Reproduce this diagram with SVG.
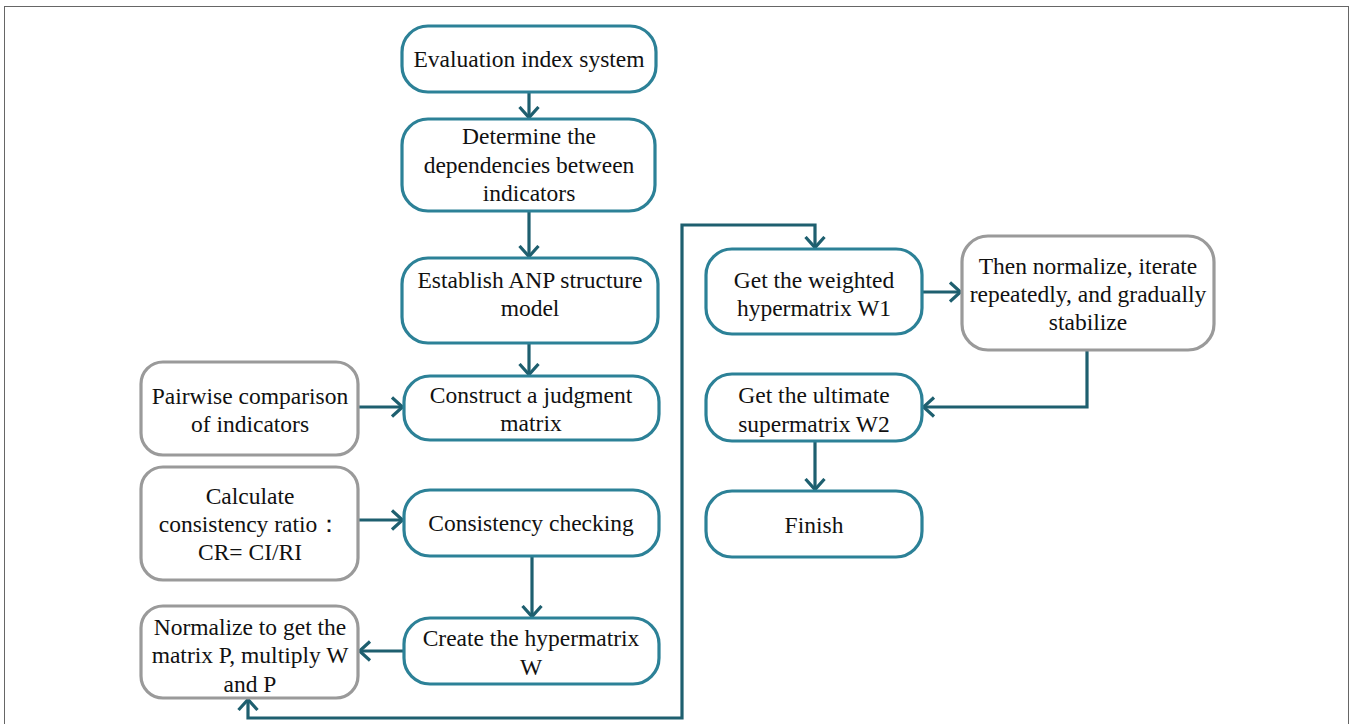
<svg xmlns="http://www.w3.org/2000/svg" width="1352" height="724" viewBox="0 0 1352 724">
<defs>
<style>
.t{fill:#fff;stroke:#2c8197;stroke-width:3.2}
.g{fill:#fff;stroke:#9a9a9a;stroke-width:3.2}
.c{fill:none;stroke:#1e5f6f;stroke-width:3.2}
text{font-family:"Liberation Serif","Times New Roman",serif;font-size:23.5px;fill:#111;text-anchor:middle}
</style>
<marker id="a" viewBox="0 0 14 22" refX="12.5" refY="11" markerWidth="14" markerHeight="22" markerUnits="userSpaceOnUse" orient="auto-start-reverse">
<path d="M1.5,1.5 L12,11 L1.5,20.5" fill="none" stroke="#1e5f6f" stroke-width="3.2"/>
</marker>
</defs>
<rect x="4.5" y="6.5" width="1344" height="730" fill="none" stroke="#666" stroke-width="1"/>
<g id="connectors">
<path class="c" d="M529,92 V118" marker-end="url(#a)"/>
<path class="c" d="M529,211 V257" marker-end="url(#a)"/>
<path class="c" d="M529,343 V375" marker-end="url(#a)"/>
<path class="c" d="M358,407 H403" marker-end="url(#a)"/>
<path class="c" d="M358,520 H403" marker-end="url(#a)"/>
<path class="c" d="M532,556 V617" marker-end="url(#a)"/>
<path class="c" d="M404,651 H359" marker-end="url(#a)"/>
<path class="c" d="M248,699 V718 H682 V225 H815 V248" marker-start="url(#a)" marker-end="url(#a)"/>
<path class="c" d="M922,292 H961" marker-end="url(#a)"/>
<path class="c" d="M1087,350 V407 H923" marker-end="url(#a)"/>
<path class="c" d="M815,441 V490" marker-end="url(#a)"/>
</g>
<g id="n1"><rect class="t" x="402" y="26" width="254" height="66" rx="26"/><text x="529" y="67">Evaluation index system</text></g>
<g id="n2"><rect class="t" x="402" y="119" width="253" height="92" rx="26"/><text x="529" y="144">Determine the</text><text x="529" y="173">dependencies between</text><text x="529" y="201">indicators</text></g>
<g id="n3"><rect class="t" x="402" y="258" width="256" height="85" rx="26"/><text x="530" y="288">Establish ANP structure</text><text x="530" y="316">model</text></g>
<g id="n4"><rect class="t" x="404" y="376" width="255" height="64" rx="26"/><text x="531" y="403">Construct a judgment</text><text x="531" y="431">matrix</text></g>
<g id="n5"><rect class="t" x="404" y="490" width="255" height="66" rx="26"/><text x="531" y="531">Consistency checking</text></g>
<g id="n6"><rect class="t" x="404" y="618" width="255" height="66" rx="26"/><text x="531" y="646">Create the hypermatrix</text><text x="531" y="675">W</text></g>
<g id="n7"><rect class="g" x="141" y="362" width="217" height="93" rx="22"/><text x="250" y="404">Pairwise comparison</text><text x="250" y="432">of indicators</text></g>
<g id="n8"><rect class="g" x="141" y="467" width="217" height="113" rx="22"/><text x="250" y="504">Calculate</text><text x="250" y="532">consistency ratio：</text><text x="250" y="560">CR= CI/RI</text></g>
<g id="n9"><rect class="g" x="141" y="606" width="217" height="92" rx="22"/><text x="250" y="635">Normalize to get the</text><text x="250" y="663">matrix P, multiply W</text><text x="250" y="692">and P</text></g>
<g id="n10"><rect class="t" x="706" y="249" width="216" height="85" rx="26"/><text x="814" y="288">Get the weighted</text><text x="814" y="316">hypermatrix W1</text></g>
<g id="n11"><rect class="g" x="962" y="236" width="252" height="114" rx="26"/><text x="1088" y="274">Then normalize, iterate</text><text x="1088" y="302">repeatedly, and gradually</text><text x="1088" y="330">stabilize</text></g>
<g id="n12"><rect class="t" x="706" y="374" width="216" height="67" rx="26"/><text x="814" y="403">Get the ultimate</text><text x="814" y="432">supermatrix W2</text></g>
<g id="n13"><rect class="t" x="706" y="491" width="216" height="66" rx="26"/><text x="814" y="533">Finish</text></g>
</svg>
